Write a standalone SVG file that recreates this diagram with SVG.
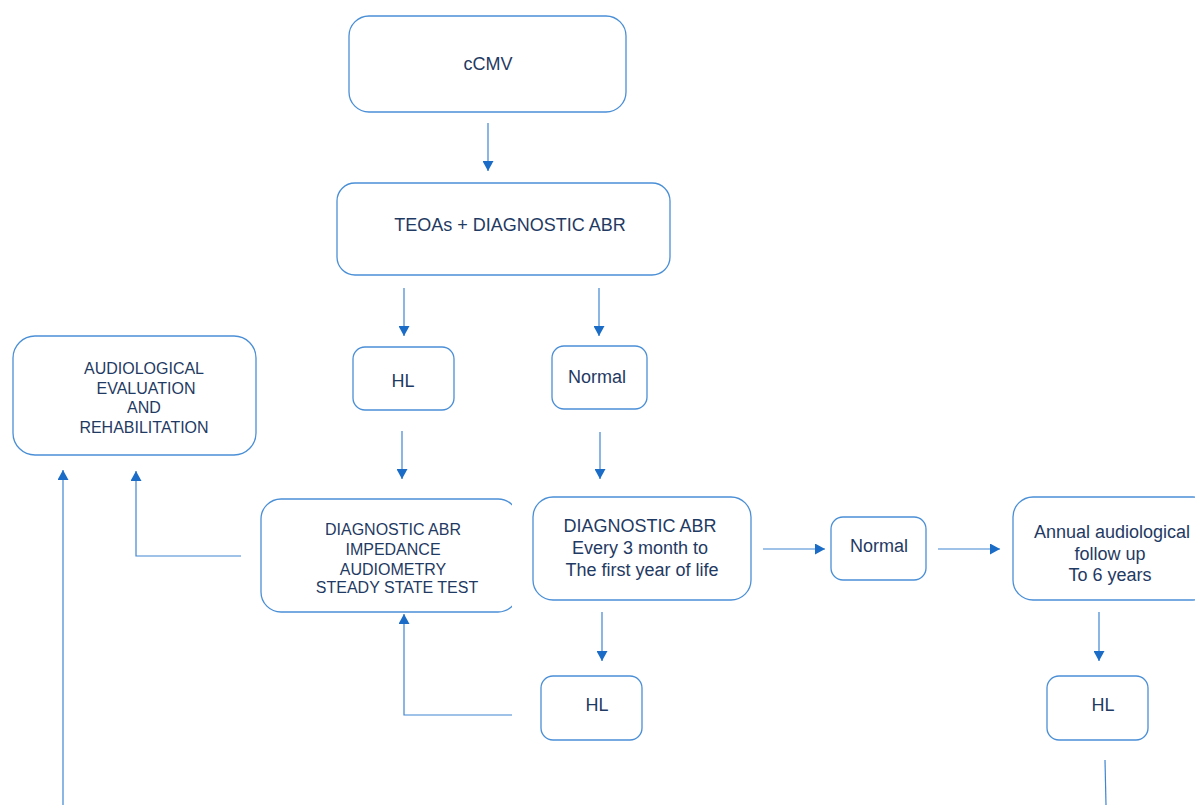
<svg xmlns="http://www.w3.org/2000/svg" width="1195" height="805" viewBox="0 0 1195 805">
<style>
.box{fill:#ffffff;stroke:#4a8fd6;stroke-width:1.3}
.t{font-family:"Liberation Sans",Arial,sans-serif;fill:#1f3a63;text-anchor:middle;font-size:18px}
.s{font-size:16px}
.c{fill:none;stroke:#3f86d2;stroke-width:1.2}
</style>
<defs>
<marker id="ah" markerUnits="userSpaceOnUse" markerWidth="11" markerHeight="11" refX="10" refY="5.5" orient="auto">
<path d="M0,0 L10,5.5 L0,11 z" fill="#1a6cc6"/>
</marker>
<clipPath id="clipL"><rect x="0" y="0" width="512" height="805"/></clipPath>
</defs>
<rect width="1195" height="805" fill="#ffffff"/>
<g id="connectors">
<line class="c" x1="488" y1="123" x2="488" y2="171" marker-end="url(#ah)"/>
<line class="c" x1="404" y1="288" x2="404" y2="336" marker-end="url(#ah)"/>
<line class="c" x1="599" y1="288" x2="599" y2="336" marker-end="url(#ah)"/>
<line class="c" x1="402" y1="431" x2="402" y2="479" marker-end="url(#ah)"/>
<line class="c" x1="600" y1="432" x2="600" y2="479" marker-end="url(#ah)"/>
<line class="c" x1="763" y1="549" x2="825" y2="549" marker-end="url(#ah)"/>
<line class="c" x1="938" y1="549" x2="1000" y2="549" marker-end="url(#ah)"/>
<line class="c" x1="602" y1="612" x2="602" y2="661" marker-end="url(#ah)"/>
<line class="c" x1="1099" y1="612" x2="1099" y2="661" marker-end="url(#ah)"/>
<polyline class="c" points="512,715 404,715 404,614" marker-end="url(#ah)"/>
<polyline class="c" points="241,556 136,556 136,471" marker-end="url(#ah)"/>
<line class="c" x1="63" y1="805" x2="63" y2="470" marker-end="url(#ah)"/>
<line class="c" x1="1105" y1="760" x2="1106" y2="805"/>
</g>
<g id="n_ccmv">
<rect class="box" x="349" y="16" width="277" height="96" rx="20"/>
<text class="t" x="488" y="70">cCMV</text>
</g>
<g id="n_teoas">
<rect class="box" x="337" y="183" width="333" height="92" rx="18"/>
<text class="t" x="510" y="231">TEOAs + DIAGNOSTIC ABR</text>
</g>
<g id="n_hl1">
<rect class="box" x="353" y="347" width="101" height="63" rx="12"/>
<text class="t" x="403" y="387">HL</text>
</g>
<g id="n_normal1">
<rect class="box" x="552" y="346" width="95" height="63" rx="12"/>
<text class="t" x="597" y="383">Normal</text>
</g>
<g id="n_audio">
<rect class="box" x="13" y="336" width="243" height="119" rx="22"/>
<text class="t s" x="144" y="374">AUDIOLOGICAL</text>
<text class="t s" x="146" y="394">EVALUATION</text>
<text class="t s" x="144" y="413">AND</text>
<text class="t s" x="144" y="433">REHABILITATION</text>
</g>
<g id="n_diag1">
<rect class="box" x="261" y="499" width="257" height="113" rx="20" clip-path="url(#clipL)"/>
<text class="t s" x="393" y="535">DIAGNOSTIC ABR</text>
<text class="t s" x="393" y="555">IMPEDANCE</text>
<text class="t s" x="393" y="575">AUDIOMETRY</text>
<text class="t s" x="397" y="593">STEADY STATE TEST</text>
</g>
<g id="n_diag2">
<rect class="box" x="533" y="497" width="218" height="103" rx="20"/>
<text class="t" x="640" y="532">DIAGNOSTIC ABR</text>
<text class="t" x="640" y="554">Every 3 month to</text>
<text class="t" x="642" y="576">The first year of life</text>
</g>
<g id="n_normal2">
<rect class="box" x="831" y="517" width="95" height="63" rx="12"/>
<text class="t" x="879" y="552">Normal</text>
</g>
<g id="n_annual">
<rect class="box" x="1013" y="497" width="200" height="103" rx="20"/>
<text class="t" x="1112" y="538">Annual audiological</text>
<text class="t" x="1110" y="560">follow up</text>
<text class="t" x="1110" y="581">To 6 years</text>
</g>
<g id="n_hl2">
<rect class="box" x="541" y="676" width="101" height="64" rx="12"/>
<text class="t" x="597" y="711">HL</text>
</g>
<g id="n_hl3">
<rect class="box" x="1047" y="676" width="101" height="64" rx="12"/>
<text class="t" x="1103" y="711">HL</text>
</g>
</svg>
